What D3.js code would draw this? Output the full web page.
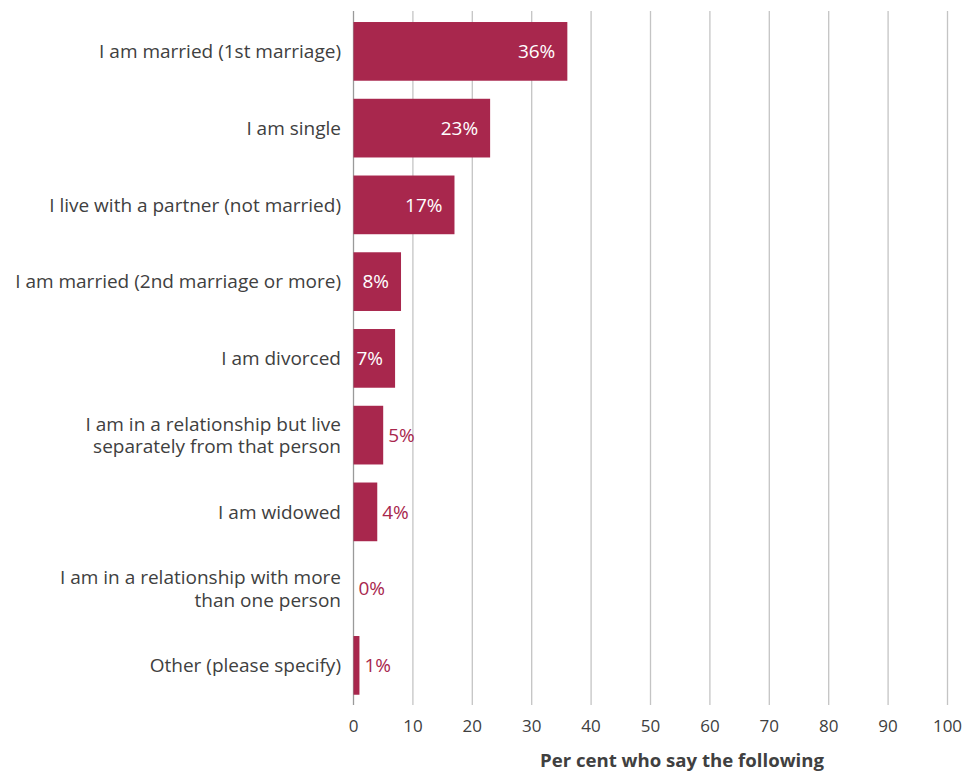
<!DOCTYPE html>
<html>
<head>
<meta charset="utf-8">
<script src="https://cdn.jsdelivr.net/npm/d3@7"></script>
<style>
  html, body { margin: 0; padding: 0; background: #fff; }
  svg text { font-family: "Open Sans", "Noto Sans", sans-serif; }
</style>
</head>
<body>
<svg id="chart" width="965" height="771"></svg>
<script>
// Relationship status survey: share of respondents per answer
const categories = [
  ["I am married (1st marriage)"],
  ["I am single"],
  ["I live with a partner (not married)"],
  ["I am married (2nd marriage or more)"],
  ["I am divorced"],
  ["I am in a relationship but live", "separately from that person"],
  ["I am widowed"],
  ["I am in a relationship with more", "than one person"],
  ["Other (please specify)"]
];
const values = [36, 23, 17, 8, 7, 5, 4, 0, 1];
const xTicks = [0, 10, 20, 30, 40, 50, 60, 70, 80, 90, 100];
const axisTitle = "Per cent who say the following";

const barColor = "#a8274d";
const textColor = "#404040";
const gridColor = "#c4c4c4";

const svg = d3.select("#chart");
const plotLeft = 353.5, plotRight = 947.5, plotTop = 13, plotBottom = 703.75;

const x = d3.scaleLinear().domain([0, 100]).range([plotLeft, plotRight]);
const y = d3.scaleBand()
  .domain(d3.range(categories.length))
  .range([plotTop, plotBottom])
  .paddingInner(0.235)
  .paddingOuter(0.1175);

// vertical gridlines (extending slightly below the plot as ticks)
svg.append("g").selectAll("line")
  .data(xTicks)
  .join("line")
  .attr("x1", d => x(d)).attr("x2", d => x(d))
  .attr("y1", 11).attr("y2", 705)
  .attr("stroke", d => d === 0 ? "#9a9a9a" : gridColor)
  .attr("stroke-width", 1.3);

// tick labels
svg.append("g").selectAll("text")
  .data(xTicks)
  .join("text")
  .attr("x", d => x(d))
  .attr("y", 732)
  .attr("text-anchor", "middle")
  .attr("fill", textColor)
  .attr("font-size", 17)
  .text(d => d);

// axis title
svg.append("text")
  .attr("x", 682)
  .attr("y", 767)
  .attr("text-anchor", "middle")
  .attr("fill", textColor)
  .attr("font-size", 18.6)
  .attr("font-weight", "bold")
  .text(axisTitle);

// bars
svg.append("g").selectAll("rect")
  .data(values)
  .join("rect")
  .attr("x", x(0))
  .attr("y", (d, i) => y(i))
  .attr("width", d => x(d) - x(0))
  .attr("height", y.bandwidth())
  .attr("fill", barColor);

// value labels: inside for longer bars, outside for short ones
const inside = d => d >= 7;
svg.append("g").selectAll("text")
  .data(values)
  .join("text")
  .attr("x", d => inside(d) ? x(d) - 12 : x(d) + 5)
  .attr("y", (d, i) => y(i) + y.bandwidth() / 2)
  .attr("dy", "0.36em")
  .attr("text-anchor", d => inside(d) ? "end" : "start")
  .attr("fill", d => inside(d) ? "#ffffff" : barColor)
  .attr("font-size", 19)
  .text(d => d + "%");

// category labels (two-line labels are centred on their bar)
const lineH = 22.6;
const catG = svg.append("g").selectAll("text")
  .data(categories)
  .join("text")
  .attr("text-anchor", "end")
  .attr("fill", textColor)
  .attr("font-size", 19)
  .attr("y", (d, i) => y(i) + y.bandwidth() / 2 - (d.length - 1) * lineH / 2);
catG.selectAll("tspan")
  .data(d => d)
  .join("tspan")
  .attr("x", 341)
  .attr("dy", (d, j) => j === 0 ? "0.36em" : lineH)
  .text(d => d);
</script>
</body>
</html>
